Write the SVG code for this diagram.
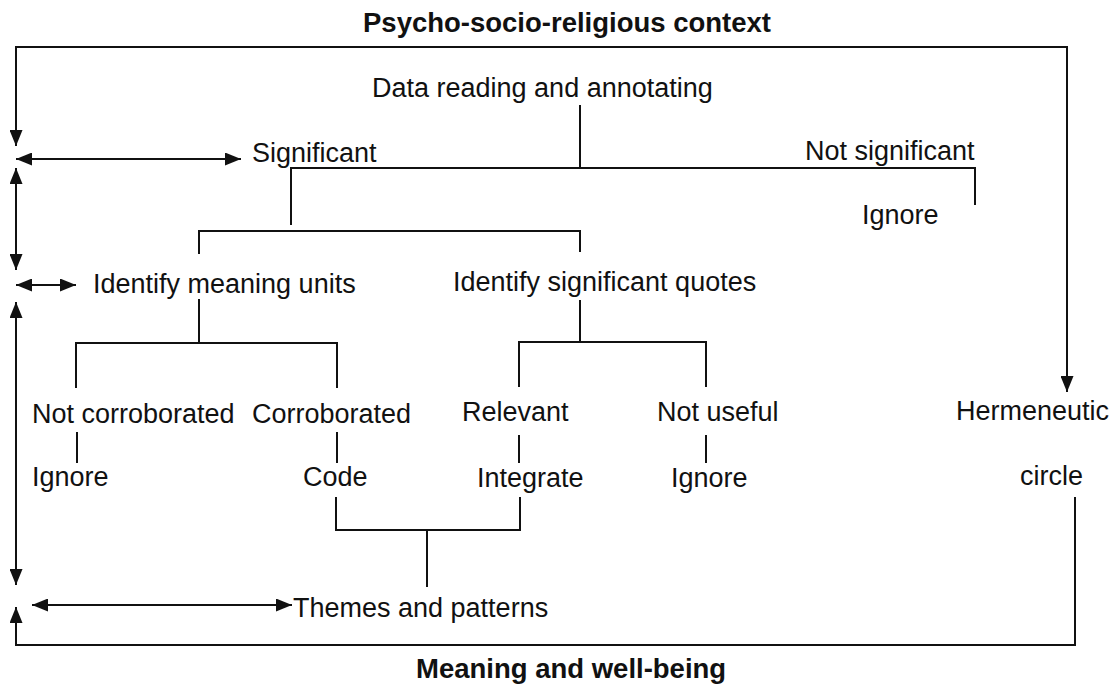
<svg xmlns="http://www.w3.org/2000/svg" width="1119" height="686" viewBox="0 0 1119 686">
<style>
text{font-family:"Liberation Sans",Arial,sans-serif;font-size:27px;fill:#111}
.b{font-weight:bold}
.ln{fill:none;stroke:#111;stroke-width:2}
.ar{marker-end:url(#ah)}
.da{marker-start:url(#ah);marker-end:url(#ah)}
</style>
<defs>
<marker id="ah" markerUnits="userSpaceOnUse" markerWidth="16" markerHeight="13" refX="16" refY="6.5" orient="auto-start-reverse" viewBox="0 0 16 13">
<path d="M0,0 L16,6.5 L0,13 z" fill="#111"/>
</marker>
</defs>
<rect width="1119" height="686" fill="#fff"/>
<g id="connectors">
<path class="ln ar" d="M1067,47 L16,47 L16,146"/>
<path class="ln ar" d="M16,47 L1067,47 L1067,392"/>
<path class="ln da" d="M16,159 L241,159"/>
<path class="ln da" d="M16,168 L16,270"/>
<path class="ln da" d="M16,285 L76,285"/>
<path class="ln da" d="M16,302 L16,585"/>
<path class="ln da" d="M32,605 L292,605"/>
<path class="ln ar" d="M1075,497 L1075,645 L16,645 L16,607"/>
<path class="ln" d="M580,105 L580,168"/>
<path class="ln" d="M291,225 L291,168 L975,168 L975,205"/>
<path class="ln" d="M199,254 L199,231 L580,231 L580,252"/>
<path class="ln" d="M199,299 L199,343"/>
<path class="ln" d="M76,388 L76,343 L337,343 L337,388"/>
<path class="ln" d="M580,300 L580,342"/>
<path class="ln" d="M519,387 L519,342 L706,342 L706,387"/>
<path class="ln" d="M77,432 L77,463"/>
<path class="ln" d="M337,432 L337,463"/>
<path class="ln" d="M519,435 L519,463"/>
<path class="ln" d="M706,435 L706,463"/>
<path class="ln" d="M336,497 L336,530 L520,530 L520,497"/>
<path class="ln" d="M427,530 L427,587"/>
</g>
<g id="n-context"><text class="b" x="363" y="32" style="font-size:27.5px">Psycho-socio-religious context</text></g>
<g id="n-data"><text x="372" y="97">Data reading and annotating</text></g>
<g id="n-significant"><text x="252" y="162">Significant</text></g>
<g id="n-notsignificant"><text x="805" y="160">Not significant</text></g>
<g id="n-ignore1"><text x="862" y="224">Ignore</text></g>
<g id="n-meaningunits"><text x="93" y="293">Identify meaning units</text></g>
<g id="n-quotes"><text x="453" y="291">Identify significant quotes</text></g>
<g id="n-notcorroborated"><text x="32" y="423">Not corroborated</text></g>
<g id="n-corroborated"><text x="252" y="423">Corroborated</text></g>
<g id="n-relevant"><text x="462" y="421">Relevant</text></g>
<g id="n-notuseful"><text x="657" y="421">Not useful</text></g>
<g id="n-hermeneutic"><text x="956" y="420">Hermeneutic</text></g>
<g id="n-ignore2"><text x="32" y="486">Ignore</text></g>
<g id="n-code"><text x="303" y="486">Code</text></g>
<g id="n-integrate"><text x="477" y="487">Integrate</text></g>
<g id="n-ignore3"><text x="671" y="487">Ignore</text></g>
<g id="n-circle"><text x="1020" y="485">circle</text></g>
<g id="n-themes"><text x="293" y="617">Themes and patterns</text></g>
<g id="n-meaning"><text class="b" x="416" y="678" style="font-size:27.5px">Meaning and well-being</text></g>
</svg>
